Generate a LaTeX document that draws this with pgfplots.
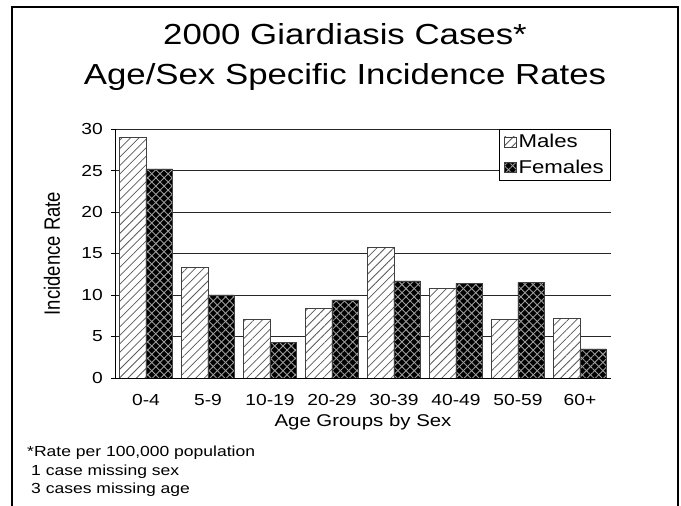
\documentclass[border=0pt]{standalone}
\usepackage{fontspec}
\setmainfont[FakeStretch=1.2]{Liberation Sans}
\newfontfamily\plainsans{Liberation Sans}
\usepackage{graphicx}
\usepackage{pgfplots}
\pgfplotsset{compat=1.18}
\usetikzlibrary{patterns.meta}

\pgfplotstableread{
grp male female
0 29.0 25.2
1 13.3 10.0
2 7.1 4.3
3 8.4 9.4
4 15.7 11.7
5 10.8 11.4
6 7.1 11.5
7 7.2 3.5
}\rates

\begin{document}
\begin{tikzpicture}
\useasboundingbox[fill=white] (0,0) rectangle (681pt,506pt);
% slide frame
\draw[line width=2.5pt] (12pt,-3pt) -- (12pt,499pt) -- (678pt,499pt) -- (678pt,-3pt);
% title
\node[anchor=base,font=\fontsize{29}{32}\selectfont] at (345pt,461pt) {2000 Giardiasis Cases*};
\node[anchor=base,font=\fontsize{29}{32}\selectfont] at (345pt,421pt) {Age/Sex Specific Incidence Rates};

\begin{axis}[
    at={(115pt,128pt)}, anchor=south west,
    scale only axis, width=496pt, height=249pt,
    ybar=0pt, bar width=26.3pt,
    xmin=-0.5, xmax=7.5, ymin=0, ymax=30,
    xtick={0,...,7},
    xticklabels={0-4,5-9,10-19,20-29,30-39,40-49,50-59,60+},
    ytick={0,5,...,30},
    axis x line*=bottom, axis y line*=left,
    axis line style={black, line width=0.7pt},
    ymajorgrids, grid style={black!85, line width=0.6pt},
    tick align=outside, major tick length=4pt,
    xtick style={draw=none},
    ytick style={black, line width=0.6pt},
    /pgf/number format/assume math mode=true,
    ticklabel style={font=\fontsize{16}{18}\selectfont},
    yticklabel style={anchor=east, inner sep=0pt, xshift=-8pt},
    xticklabel style={anchor=base, inner sep=0pt, yshift=-24pt},
    xlabel={Age Groups by Sex},
    xlabel style={font=\fontsize{17}{20}\selectfont, at={([yshift=-49pt]axis description cs:0.5,0)}, anchor=base},
    ylabel={\plainsans\scalebox{1}[1.2]{Incidence Rate}},
    ylabel style={font=\fontsize{18.5}{20}\selectfont, at={([xshift=-63pt]axis description cs:0,0.5)}, anchor=center},
    legend style={at={(1,1)}, anchor=north east, draw=black, line width=0.6pt,
        font=\fontsize{18.5}{20}\selectfont, inner xsep=5pt, inner ysep=3pt,
        row sep=7pt, legend cell align=left},
    legend image code/.code={\draw[#1] (0pt,-5pt) rectangle (12pt,5pt);},
]
\addplot[fill=white, draw=black!75, line width=0.5pt,
    postaction={pattern={Lines[angle=45,distance=6pt,line width=0.75pt]}, pattern color=black!65}]
    table[x=grp, y=male] {\rates};
\addplot[fill=black, draw=black!75, line width=0.5pt,
    postaction={pattern={Lines[angle=45,distance=5.8pt,line width=0.9pt]}, pattern color=black!38},
    postaction={pattern={Lines[angle=-45,distance=5.8pt,line width=0.9pt]}, pattern color=black!38}]
    table[x=grp, y=female] {\rates};
\legend{Males, Females}
\end{axis}

% footnote
\begin{scope}[every node/.style={anchor=base west, inner sep=0pt, font=\fontsize{14.6}{17}\selectfont}]
\node at (27pt,49pt) {*Rate per 100,000 population};
\node at (31pt,30pt) {1 case missing sex};
\node at (31pt,12pt) {3 cases missing age};
\end{scope}
\end{tikzpicture}
\end{document}
